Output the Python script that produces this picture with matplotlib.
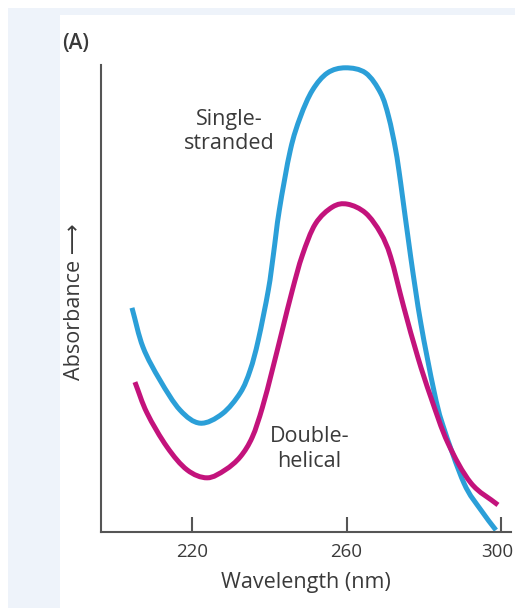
import numpy as np
from matplotlib import pyplot as plt
from matplotlib.patches import Rectangle, PathPatch
from matplotlib.path import Path
from matplotlib.transforms import ScaledTranslation

# wavelength (nm) and relative absorbance
wl_single = [204.42, 207.27, 211.69, 216.88, 222.08, 227.79, 232.47, 235.06, 237.14,
             239.74, 241.04, 242.60, 245.45, 248.05, 251.17, 255.06, 259.74, 264.94,
             268.83, 270.91, 272.73, 274.03, 276.62, 279.22, 282.60, 284.94, 290.39,
             294.81, 298.70]
ab_single = [0.480, 0.396, 0.325, 0.261, 0.233, 0.253, 0.298, 0.347, 0.411,
             0.518, 0.593, 0.690, 0.818, 0.889, 0.946, 0.983, 0.994, 0.983,
             0.940, 0.889, 0.818, 0.747, 0.589, 0.448, 0.304, 0.229, 0.105,
             0.047, 0.004]

wl_double = [205.19, 208.31, 213.51, 218.70, 223.90, 228.57, 232.47, 235.58, 238.18,
             240.78, 243.38, 245.97, 248.57, 251.95, 256.36, 260.26, 264.94, 268.83,
             271.43, 274.81, 278.44, 281.82, 286.23, 292.21, 299.22]
ab_double = [0.321, 0.255, 0.182, 0.133, 0.116, 0.133, 0.161, 0.203, 0.266,
             0.347, 0.433, 0.518, 0.593, 0.660, 0.696, 0.702, 0.683, 0.640,
             0.589, 0.482, 0.375, 0.289, 0.191, 0.105, 0.058]

xticks = [220, 260, 300]


def smooth_path(x, y):
    # bezier segments through the read points (Catmull-Rom tangents)
    p = np.column_stack([x, y])
    p = np.vstack([2 * p[0] - p[1], p, 2 * p[-1] - p[-2]])
    verts = [p[1]]
    codes = [Path.MOVETO]
    for i in range(1, len(p) - 2):
        p0, p1, p2, p3 = p[i - 1], p[i], p[i + 1], p[i + 2]
        verts += [p1 + (p2 - p0) / 6, p2 - (p3 - p1) / 6, p2]
        codes += [Path.CURVE4] * 3
    return Path(verts, codes)


plt.rcParams['font.family'] = ['Open Sans', 'DejaVu Sans']
txt = '#3a3a3a'

fig = plt.figure(figsize=(5.15, 6.08), dpi=100)
fig.patch.set_facecolor('white')
fig.add_artist(Rectangle((8/515, 0), 507/515, 600/608, transform=fig.transFigure,
                         facecolor='#eef3fa', edgecolor='none', zorder=-2))
fig.add_artist(Rectangle((60/515, 0), 455/515, 593/608, transform=fig.transFigure,
                         facecolor='white', edgecolor='none', zorder=-1))

ax = fig.add_axes([101/515, 1 - 532/608, 410/515, 467/608])
ax.set_facecolor('none')
ax.add_patch(PathPatch(smooth_path(wl_single, ab_single), fill=False,
                       edgecolor='#2b9fd8', lw=3.6, capstyle='butt', joinstyle='round'))
ax.add_patch(PathPatch(smooth_path(wl_double, ab_double), fill=False,
                       edgecolor='#c3137c', lw=3.6, capstyle='butt', joinstyle='round'))

ax.set_xlim(196.4, 302.6)
ax.set_ylim(0, 1)
for s in ['top', 'right']:
    ax.spines[s].set_visible(False)
for s in ['left', 'bottom']:
    ax.spines[s].set_color('#555555')
    ax.spines[s].set_linewidth(1.5)
ax.set_xticks(xticks)
ax.set_yticks([])
ax.tick_params(axis='x', direction='in', length=11, width=1.5, color='#555555',
               labelsize=13.5, labelcolor=txt, pad=8)
# keep the last tick label inside the picture
last = ax.get_xticklabels()[-1]
last.set_transform(last.get_transform() + ScaledTranslation(-4/100, 0, fig.dpi_scale_trans))
ax.set_xlabel('Wavelength (nm)', fontsize=15.5, color=txt, labelpad=8)

ax.text(229.6, 0.858, 'Single-\nstranded', ha='center', va='center', fontsize=15.5,
        color=txt, linespacing=1.22)
ax.text(250.4, 0.178, 'Double-\nhelical', ha='center', va='center', fontsize=15.5,
        color=txt, linespacing=1.22)

fig.text(62/515, 1 - 43/608, '(A)', ha='left', va='center', fontsize=15,
         color=txt, fontweight='semibold')
fig.text(75/515, 1 - 302/608, 'Absorbance \u27f6', rotation=90, ha='center',
         va='center', fontsize=15.5, color=txt)

fig.savefig('out.png', dpi=100)
